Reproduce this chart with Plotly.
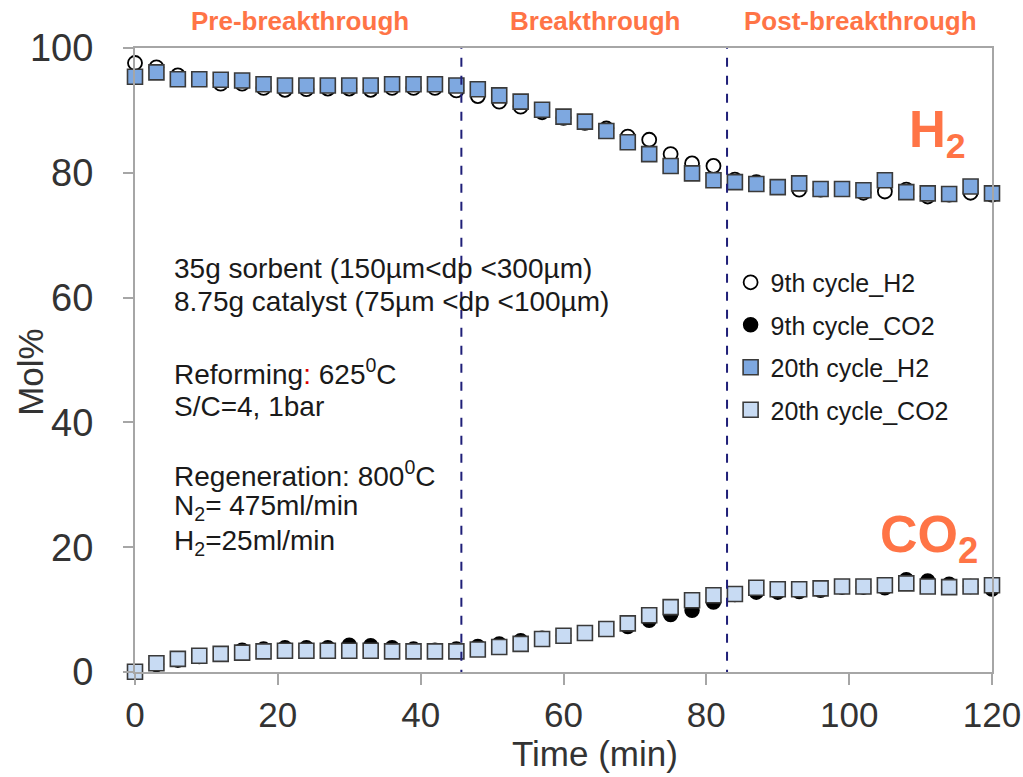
import plotly.graph_objects as go

# Sampling times (min)
time_min = list(range(0, 121, 3))

# 9th cycle (open / filled circles)
h2_cycle9 = [97.6, 96.9, 95.6, 95.0, 94.3, 94.3, 93.6, 93.3, 93.4, 93.5, 93.5, 93.3, 93.6, 93.6,
             93.6, 93.2, 92.3, 91.4, 90.6, 89.7, 88.8, 88.0, 87.1, 85.8, 85.3, 83.0, 81.5, 81.1,
             78.9, 78.5, 77.7, 77.3, 77.3, 77.4, 76.8, 77.0, 77.3, 76.2, 76.5, 76.8, 76.5]
co2_cycle9 = [0.0, 1.2, 1.9, 2.5, 2.9, 3.5, 3.7, 3.9, 3.9, 3.9, 4.3, 4.2, 3.9, 3.7,
              3.5, 3.7, 4.1, 4.5, 5.0, 5.4, 5.8, 6.3, 6.9, 7.3, 8.3, 9.2, 9.9, 11.2,
              12.4, 12.8, 12.8, 12.9, 13.1, 13.6, 13.6, 13.5, 14.8, 14.6, 14.05, 13.7, 13.3]

# 20th cycle (squares)
h2_cycle20 = [95.4, 96.1, 95.0, 95.0, 94.9, 94.8, 94.2, 94.0, 94.0, 94.0, 94.0, 94.0, 94.2, 94.2,
              94.2, 94.0, 93.4, 92.4, 91.4, 90.1, 89.0, 88.2, 86.7, 84.9, 83.0, 81.1, 79.9, 78.8,
              78.5, 78.2, 77.7, 78.3, 77.4, 77.4, 77.2, 78.8, 76.9, 76.7, 76.6, 77.8, 76.7]
co2_cycle20 = [0.05, 1.4, 2.1, 2.6, 2.9, 3.1, 3.3, 3.4, 3.4, 3.4, 3.4, 3.4, 3.3, 3.3,
               3.3, 3.3, 3.6, 4.0, 4.5, 5.3, 5.8, 6.25, 6.9, 7.8, 9.1, 10.4, 11.5, 12.3,
               12.5, 13.5, 13.25, 13.25, 13.4, 13.7, 13.7, 13.9, 14.2, 13.7, 13.6, 13.7, 13.9]

# Phase boundaries (min) and phase names (centres in paper x)
phase_bounds = [45.7, 82.9]
phase_names = ["Pre-breakthrough", "Breakthrough", "Post-breakthrough"]
phase_label_x = [0.193, 0.537, 0.846]

# Operating conditions text block
conditions = [
    ("35g sorbent (150µm&lt;dp &lt;300µm)", 64.7),
    ("8.75g catalyst (75µm &lt;dp &lt;100µm)", 59.3),
    ("Reforming<span style='color:#e00000'>:</span> 625<sup>0</sup>C", 48.1),
    ("S/C=4, 1bar", 42.6),
    ("Regeneration: 800<sup>0</sup>C", 31.7),
    ("N<sub>2</sub>= 475ml/min", 26.3),
    ("H<sub>2</sub>=25ml/min", 20.7),
]

ORANGE = "#FF7446"
AXIS_GRAY = "#A6A6A6"
TEXT = "#333333"
FONT = "Liberation Sans"

fig = go.Figure()

fig.add_trace(go.Scatter(
    x=time_min, y=h2_cycle9, mode="markers", name="9th cycle_H2",
    legendgroup="a",
    marker=dict(symbol="circle", size=14, color="white", line=dict(color="black", width=1.8)),
    cliponaxis=False))
fig.add_trace(go.Scatter(
    x=time_min, y=co2_cycle9, mode="markers", name="9th cycle_CO2",
    legendgroup="b",
    marker=dict(symbol="circle", size=14, color="black", line=dict(color="black", width=1.5)),
    cliponaxis=False))
fig.add_trace(go.Scatter(
    x=time_min, y=h2_cycle20, mode="markers", name="20th cycle_H2",
    legendgroup="c",
    marker=dict(symbol="square", size=15, color="#7EA8E0", line=dict(color="#3a3a3a", width=1.6)),
    cliponaxis=False))
fig.add_trace(go.Scatter(
    x=time_min, y=co2_cycle20, mode="markers", name="20th cycle_CO2",
    legendgroup="d",
    marker=dict(symbol="square", size=15, color="#C8DBF3", line=dict(color="#3a3a3a", width=1.6)),
    cliponaxis=False))

for xb in phase_bounds:
    fig.add_shape(type="line", xref="x", yref="y", x0=xb, x1=xb, y0=-15.5, y1=100.5,
                  line=dict(color="#1F1F78", width=2, dash="dash"))

for name, xc in zip(phase_names, phase_label_x):
    fig.add_annotation(x=xc, y=1.043, xref="paper", yref="paper", text=f"<b>{name}</b>",
                       showarrow=False, xanchor="center", yanchor="middle",
                       font=dict(family=FONT, size=26, color=ORANGE))

for line, yv in conditions:
    fig.add_annotation(x=5.2, y=yv, xref="x", yref="y", text=line, showarrow=False,
                       xanchor="left", yanchor="middle",
                       font=dict(family=FONT, size=28, color="#1a1a1a"))

fig.add_annotation(x=108.1, y=86.3, xref="x", yref="y", text="<b>H<sub>2</sub></b>",
                   showarrow=False, xanchor="left", yanchor="middle",
                   font=dict(family=FONT, size=51, color=ORANGE))
fig.add_annotation(x=104.1, y=21.5, xref="x", yref="y", text="<b>CO<sub>2</sub></b>",
                   showarrow=False, xanchor="left", yanchor="middle",
                   font=dict(family=FONT, size=52, color=ORANGE))

# Axis titles
fig.add_annotation(x=0.537, y=-0.1314, xref="paper", yref="paper", text="Time (min)",
                   showarrow=False, xanchor="center", yanchor="middle",
                   font=dict(family=FONT, size=35, color=TEXT))
fig.add_annotation(x=-0.1214, y=0.481, xref="paper", yref="paper", text="Mol%",
                   showarrow=False, xanchor="center", yanchor="middle", textangle=-90,
                   font=dict(family=FONT, size=35, color=TEXT))

fig.update_layout(
    width=1023, height=777,
    margin=dict(l=135, r=31, t=48, b=105),
    plot_bgcolor="white", paper_bgcolor="white",
    font=dict(family=FONT, color=TEXT),
    showlegend=True,
    legend=dict(x=0.695, y=0.661, xanchor="left", yanchor="top",
                font=dict(family=FONT, size=25, color="#1a1a1a"),
                bgcolor="rgba(0,0,0,0)", tracegroupgap=7, traceorder="grouped"),
    xaxis=dict(range=[0, 120], tickmode="array", tickvals=[0, 20, 40, 60, 80, 100, 120],
               automargin=False,
               showgrid=False, zeroline=False, showline=True, linecolor=AXIS_GRAY, linewidth=2,
               mirror=True, ticks="outside", ticklen=11, tickwidth=2, tickcolor=AXIS_GRAY,
               tickfont=dict(family=FONT, size=35, color=TEXT)),
    yaxis=dict(range=[0, 100], tickmode="array", tickvals=[0, 20, 40, 60, 80, 100],
               automargin=False,
               showgrid=False, zeroline=False, showline=True, linecolor=AXIS_GRAY, linewidth=2,
               mirror=True, ticks="outside", ticklen=10, tickwidth=2, tickcolor=AXIS_GRAY,
               ticklabelstandoff=22,
               tickfont=dict(family=FONT, size=38, color=TEXT)),
)

fig.write_html("out.html")
